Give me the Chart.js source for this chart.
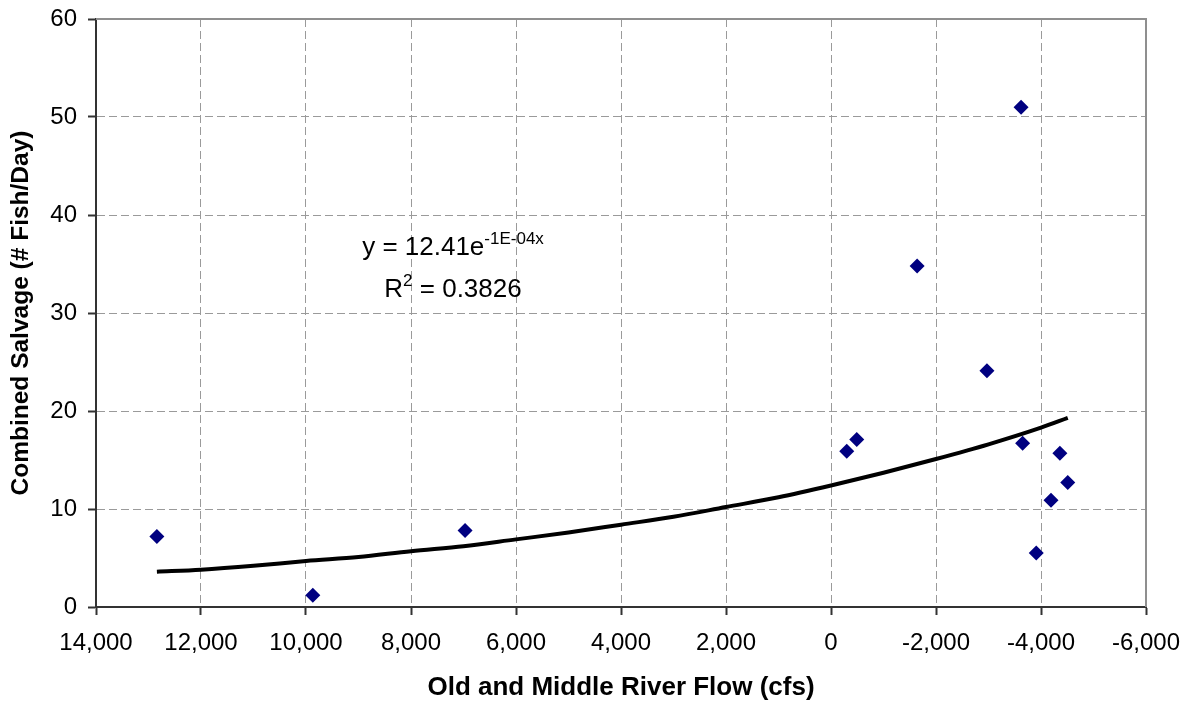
<!DOCTYPE html>
<html>
<head>
<meta charset="utf-8">
<script src="https://cdn.jsdelivr.net/npm/chart.js@4"></script>
<style>
  html, body { margin: 0; padding: 0; background: #fff; }
  #wrap { width: 1187px; height: 704px; }
</style>
</head>
<body>
<div id="wrap"><canvas id="salvageChart"></canvas></div>
<script>
// Old and Middle River flow (cfs) vs combined salvage (fish/day)
const flowCfs = [12840, 9870, 6970, -300, -490, -1640, -2970, -3620, -3650, -4360, -4510, -4190, -3910];
const salvage = [7.2, 1.2, 7.8, 15.9, 17.1, 34.8, 24.1, 51.0, 16.7, 15.7, 12.7, 10.9, 5.5];

// exponential trend line, y = 12.41e^(-1E-04x)
const trendFlow = [12840, 12000, 11000, 10000, 9000, 8000, 7000, 6000, 5000, 4000, 3000, 2000, 1000, 0,
                   -1000, -2000, -3000, -4000, -4510];
const trendSalvage = [3.6, 3.8, 4.2, 4.7, 5.1, 5.7, 6.2, 6.9, 7.6, 8.4, 9.2, 10.2, 11.2, 12.4,
                      13.7, 15.1, 16.6, 18.3, 19.3];

const xTickValues = [14000, 12000, 10000, 8000, 6000, 4000, 2000, 0, -2000, -4000, -6000];
const yTickValues = [0, 10, 20, 30, 40, 50, 60];

const equationLines = [
    { text: 'y = 12.41e', sup: '-1E-04x', after: '' },
    { text: 'R', sup: '2', after: ' = 0.3826' }
];

const FONT = "'Liberation Sans', Arial, sans-serif";

// solid grey frame on top/right and the trend equation
const frameAndEquation = {
    id: 'frameAndEquation',
    beforeDatasetsDraw(chart) {
        const { ctx, chartArea: a } = chart;
        ctx.save();
        ctx.strokeStyle = '#8f8f8f';
        ctx.lineWidth = 2;
        ctx.beginPath();
        ctx.moveTo(a.left, a.top);
        ctx.lineTo(a.right, a.top);
        ctx.lineTo(a.right, a.bottom);
        ctx.stroke();
        ctx.restore();
    },
    afterDraw(chart) {
        const { ctx, scales } = chart;
        const cx = scales.x.getPixelForValue(7200);
        const baselines = [35.9, 31.6].map(v => scales.y.getPixelForValue(v));
        ctx.save();
        ctx.fillStyle = '#000';
        ctx.textBaseline = 'alphabetic';
        ctx.textAlign = 'left';
        equationLines.forEach((line, i) => {
            const big = '26px ' + FONT, small = '17px ' + FONT;
            ctx.font = big;
            const w1 = ctx.measureText(line.text).width;
            const w3 = ctx.measureText(line.after).width;
            ctx.font = small;
            const w2 = ctx.measureText(line.sup).width;
            let x = cx - (w1 + w2 + w3) / 2;
            const y = baselines[i];
            ctx.font = big;
            ctx.fillText(line.text, x, y);
            x += w1;
            ctx.font = small;
            ctx.fillText(line.sup, x, y - 11);
            x += w2;
            ctx.font = big;
            ctx.fillText(line.after, x, y);
        });
        ctx.restore();
    }
};

const ctx = document.getElementById('salvageChart').getContext('2d');

new Chart(ctx, {
    type: 'scatter',
    data: {
        datasets: [{
                label: 'Salvage',
                data: flowCfs.map((f, i) => ({ x: f, y: salvage[i] })),
                pointStyle: 'rectRot',
                pointRadius: 7.5,
                pointHoverRadius: 7.5,
                backgroundColor: '#000080',
                borderColor: '#000080',
                borderWidth: 0,
                order: 1
            },
            {
                label: 'Expon. trend',
                type: 'line',
                data: trendFlow.map((f, i) => ({ x: f, y: trendSalvage[i] })),
                borderColor: '#000',
                borderWidth: 4,
                pointRadius: 0,
                cubicInterpolationMode: 'monotone',
                fill: false,
                order: 2
            }
        ]
    },
    options: {
        responsive: true,
        maintainAspectRatio: false,
        animation: false,
        layout: {
            padding: { top: 19, right: 41, left: 0, bottom: 0 }
        },
        plugins: {
            legend: { display: false },
            tooltip: { enabled: false }
        },
        scales: {
            x: {
                type: 'linear',
                reverse: true,
                min: -6000,
                max: 14000,
                afterBuildTicks: scale => {
                    scale.ticks = xTickValues.map(v => ({ value: v }));
                },
                afterFit: scale => {
                    scale.height = 97;
                    scale.paddingLeft = 0;
                    scale.paddingRight = 0;
                },
                ticks: {
                    color: '#000',
                    padding: 14,
                    maxRotation: 0,
                    font: { size: 24, family: FONT },
                    callback: v => v.toLocaleString('en-US')
                },
                grid: {
                    color: '#9a9a9a',
                    tickLength: 8,
                    tickColor: '#333',
                    tickWidth: 2,
                    tickBorderDash: []
                },
                border: { color: '#333', width: 2, dash: [8, 4] },
                title: {
                    display: true,
                    text: 'Old and Middle River Flow (cfs)',
                    color: '#000',
                    padding: { top: 0, bottom: 1 },
                    font: { size: 26, weight: 'bold', family: FONT }
                }
            },
            y: {
                min: 0,
                max: 60,
                afterBuildTicks: scale => {
                    scale.ticks = yTickValues.map(v => ({ value: v }));
                },
                afterFit: scale => {
                    scale.width = 96;
                    scale.paddingTop = 0;
                    scale.paddingBottom = 0;
                },
                ticks: {
                    color: '#000',
                    padding: 11,
                    font: { size: 24, family: FONT }
                },
                grid: {
                    color: '#9a9a9a',
                    tickLength: 8,
                    tickColor: '#333',
                    tickWidth: 2,
                    tickBorderDash: []
                },
                border: { color: '#333', width: 2, dash: [8, 4] },
                title: {
                    display: true,
                    text: 'Combined Salvage (# Fish/Day)',
                    color: '#000',
                    padding: { top: 7, bottom: 0 },
                    font: { size: 24.5, weight: 'bold', family: FONT }
                }
            }
        }
    },
    plugins: [frameAndEquation]
});
</script>
</body>
</html>
